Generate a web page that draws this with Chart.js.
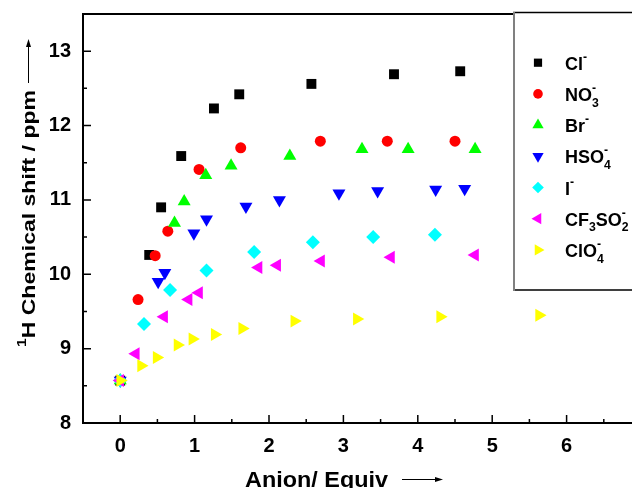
<!DOCTYPE html>
<html>
<head>
<meta charset="utf-8">
<script src="https://cdn.jsdelivr.net/npm/chart.js@4.4.1/dist/chart.umd.min.js"></script>
<style>
  html, body { margin: 0; padding: 0; background: #fff; overflow: hidden; }
  #wrap { width: 680px; height: 488px; }
</style>
</head>
<body>
<div id="wrap"><canvas id="chart" width="680" height="488"></canvas></div>
<script>
// tick labels
const xTicks = [0, 1, 2, 3, 4, 5, 6];
const yTicks = [8, 9, 10, 11, 12, 13];

// series (x = anion equiv, y = ppm)
const clX = [0, 0.39, 0.55, 0.82, 1.26, 1.60, 2.57, 3.68, 4.57];
const clY = [8.57, 10.26, 10.90, 11.59, 12.23, 12.42, 12.56, 12.69, 12.73];

const no3X = [0, 0.24, 0.47, 0.64, 1.06, 1.62, 2.69, 3.59, 4.50];
const no3Y = [8.57, 9.66, 10.25, 10.58, 11.41, 11.70, 11.79, 11.79, 11.79];

const brX = [0, 0.73, 0.86, 1.15, 1.49, 2.28, 3.25, 3.87, 4.77];
const brY = [8.57, 10.69, 10.98, 11.33, 11.46, 11.59, 11.68, 11.68, 11.68];

const hso4X = [0, 0.51, 0.60, 0.99, 1.16, 1.69, 2.14, 2.94, 3.46, 4.24, 4.63];
const hso4Y = [8.57, 9.90, 10.02, 10.55, 10.74, 10.91, 11.00, 11.09, 11.12, 11.14, 11.15];

const iX = [0, 0.32, 0.67, 1.16, 1.80, 2.59, 3.40, 4.23];
const iY = [8.57, 9.33, 9.79, 10.05, 10.30, 10.43, 10.50, 10.53];

const cf3X = [0, 0.21, 0.59, 0.92, 1.06, 1.86, 2.11, 2.70, 3.64, 4.77];
const cf3Y = [8.57, 8.93, 9.43, 9.66, 9.75, 10.09, 10.12, 10.18, 10.23, 10.26];

const clo4X = [0, 0.28, 0.49, 0.77, 0.97, 1.27, 1.64, 2.34, 3.18, 4.30, 5.63];
const clo4Y = [8.57, 8.77, 8.88, 9.05, 9.13, 9.19, 9.27, 9.37, 9.40, 9.43, 9.45];

// legend labels as text pieces (sub / sup)
const anions = [
  [['Cl'], ['-', 'sup']],
  [['NO'], ['3', 'sub'], ['-', 'sup']],
  [['Br'], ['-', 'sup']],
  [['HSO'], ['4', 'sub'], ['-', 'sup']],
  [['I'], ['-', 'sup']],
  [['CF'], ['3', 'sub'], ['SO'], ['2', 'sub'], ['-', 'sup']],
  [['ClO'], ['4', 'sub'], ['-', 'sup']]
];

const FONT = '"Liberation Sans", Arial, sans-serif';

const series = [
  { x: clX, y: clY, color: '#000000', style: 'rect', r: 7, rot: 0 },
  { x: no3X, y: no3Y, color: '#ff0000', style: 'circle', r: 5.5, rot: 0 },
  { x: brX, y: brY, color: '#00ff00', style: 'triangle', r: 7.5, rot: 0 },
  { x: hso4X, y: hso4Y, color: '#0000ff', style: 'triangle', r: 7.5, rot: 180 },
  { x: iX, y: iY, color: '#00ffff', style: 'rectRot', r: 7, rot: 0 },
  { x: cf3X, y: cf3Y, color: '#ff00ff', style: 'triangle', r: 7.5, rot: 270 },
  { x: clo4X, y: clo4Y, color: '#ffff00', style: 'triangle', r: 7.5, rot: 90 }
];

function richText(ctx, parts, x, y, size, draw = true) {
  let cx = x, subStart = null;
  parts.forEach(p => {
    const kind = p[1];
    let s = size, dy = 0;
    if (kind === 'sub') { s = size * 0.68; dy = size * 0.32; }
    if (kind === 'sup') { s = size * 0.68; dy = -size * 0.5; }
    ctx.font = 'bold ' + s + 'px ' + FONT;
    let startX = cx;
    if (kind === 'sup' && subStart !== null) startX = subStart;
    if (draw) ctx.fillText(p[0], startX, y + dy);
    const w = ctx.measureText(p[0]).width;
    if (kind === 'sub') { subStart = cx; cx += w; }
    else if (kind === 'sup' && subStart !== null) { cx = Math.max(cx, startX + w); subStart = null; }
    else { cx = startX + w; subStart = null; }
  });
  return cx;
}

function marker(ctx, s, x, y, r) {
  ctx.fillStyle = s.color;
  if (Chart.helpers && Chart.helpers.drawPoint) {
    Chart.helpers.drawPoint(ctx, { pointStyle: s.style, radius: r, rotation: s.rot, borderWidth: 0 }, x, y);
  }
}

function arrow(ctx, x0, x1, y) {
  ctx.beginPath();
  ctx.moveTo(x0, y); ctx.lineTo(x1 - 6, y);
  ctx.stroke();
  ctx.beginPath();
  ctx.moveTo(x1, y); ctx.lineTo(x1 - 8, y - 2.5); ctx.lineTo(x1 - 8, y + 2.5); ctx.closePath();
  ctx.fill();
}

const decor = {
  id: 'decor',
  beforeDatasetsDraw(chart) {
    const { ctx, chartArea: a, scales } = chart;
    const sx = scales.x, sy = scales.y;
    ctx.save();
    ctx.strokeStyle = '#000';
    ctx.lineWidth = 2;
    ctx.beginPath();
    ctx.moveTo(a.right, a.top);
    ctx.lineTo(a.left, a.top);
    ctx.lineTo(a.left, a.bottom);
    ctx.lineTo(a.right, a.bottom);
    ctx.stroke();

    ctx.lineWidth = 1.5;
    ctx.beginPath();
    xTicks.forEach(v => {
      const px = sx.getPixelForValue(v);
      ctx.moveTo(px, a.bottom); ctx.lineTo(px, a.bottom - 8);
      const pm = sx.getPixelForValue(v + 0.5);
      ctx.moveTo(pm, a.bottom); ctx.lineTo(pm, a.bottom - 4);
    });
    yTicks.forEach(v => {
      const py = sy.getPixelForValue(v);
      ctx.moveTo(a.left, py); ctx.lineTo(a.left + 8, py);
      const pm = sy.getPixelForValue(v + 0.5);
      if (pm > a.top + 2) { ctx.moveTo(a.left, pm); ctx.lineTo(a.left + 4, pm); }
    });
    ctx.stroke();

    // axis titles
    ctx.fillStyle = '#000';
    ctx.textAlign = 'left';
    ctx.textBaseline = 'alphabetic';
    ctx.lineWidth = 1;

    ctx.save();
    ctx.translate(245, 487);
    ctx.font = 'bold 22px ' + FONT;
    const xw = ctx.measureText('Anion/ Equiv').width;
    ctx.scale(143 / xw, 1);
    ctx.fillText('Anion/ Equiv', 0, 0);
    ctx.restore();
    arrow(ctx, 402, 443, 479.5);

    ctx.save();
    ctx.translate(35, 347);
    ctx.rotate(-Math.PI / 2);
    const yParts = [['1', 'sup'], ['H Chemical shift / ppm']];
    const yw = richText(ctx, yParts, 0, 0, 19, false);
    const f = 257 / yw;
    ctx.save();
    ctx.scale(f, 1);
    richText(ctx, yParts, 0, 0, 19);
    ctx.restore();
    arrow(ctx, 264, 308, -6.5);
    ctx.restore();
    ctx.restore();
  },
  afterDraw(chart) {
    const ctx = chart.ctx;
    ctx.save();
    ctx.fillStyle = '#fff';
    ctx.fillRect(514, 13, 200, 277);
    ctx.strokeStyle = '#000';
    ctx.lineWidth = 1.5;
    ctx.beginPath();
    ctx.moveTo(513, 12.5); ctx.lineTo(700, 12.5);
    ctx.moveTo(513, 290); ctx.lineTo(700, 290);
    ctx.stroke();
    ctx.strokeStyle = '#808080';
    ctx.lineWidth = 2;
    ctx.beginPath();
    ctx.moveTo(514, 12); ctx.lineTo(514, 291);
    ctx.stroke();

    ctx.textAlign = 'left';
    ctx.textBaseline = 'alphabetic';
    anions.forEach((parts, i) => {
      const cy = 62.7 + i * 31.2;
      const s = series[i];
      marker(ctx, s, 538, cy, s.style === 'rect' ? 5.8 : s.style === 'circle' ? 4.8 : s.style === 'rectRot' ? 5.8 : 6.5);
      ctx.fillStyle = '#000';
      richText(ctx, parts, 565, cy + 7, 18);
    });
    ctx.restore();
  }
};

new Chart(document.getElementById('chart'), {
  type: 'scatter',
  data: {
    datasets: series.map((s, i) => ({
      label: anions[i].map(p => p[0]).join(''),
      data: s.x.map((v, k) => ({ x: v, y: s.y[k] })),
      pointStyle: s.style,
      pointRadius: s.r,
      pointRotation: s.rot,
      pointBackgroundColor: s.color,
      pointBorderColor: s.color,
      pointBorderWidth: 0,
      order: series.length - i
    }))
  },
  options: {
    responsive: false,
    animation: false,
    events: [],
    layout: { padding: { top: 14, right: 39, left: 0, bottom: 0 } },
    scales: {
      x: {
        type: 'linear',
        min: -0.5,
        max: 7,
        afterBuildTicks: scale => { scale.ticks = xTicks.map(v => ({ value: v })); },
        afterFit: scale => { scale.height = 65; scale.paddingLeft = 0; scale.paddingRight = 0; },
        grid: { display: false, drawTicks: false },
        border: { display: false },
        ticks: { padding: 11, color: '#000', font: { family: FONT, size: 20, weight: 'bold' }, maxRotation: 0 }
      },
      y: {
        type: 'linear',
        min: 8,
        max: 13.5,
        afterBuildTicks: scale => { scale.ticks = yTicks.map(v => ({ value: v })); },
        afterFit: scale => { scale.width = 83; scale.paddingTop = 0; scale.paddingBottom = 0; },
        grid: { display: false, drawTicks: false },
        border: { display: false },
        ticks: { padding: 12, color: '#000', font: { family: FONT, size: 20, weight: 'bold' } }
      }
    },
    plugins: {
      legend: { display: false },
      tooltip: { enabled: false }
    }
  },
  plugins: [decor]
});
</script>
</body>
</html>
